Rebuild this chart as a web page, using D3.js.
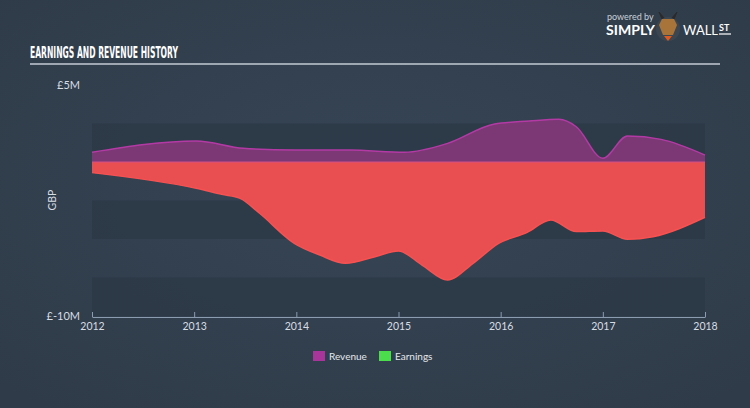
<!DOCTYPE html>
<html><head><meta charset="utf-8">
<script src="https://cdn.jsdelivr.net/npm/d3@7"></script>
<style>html,body{margin:0;padding:0;background:#333f4e;}svg{display:block;}</style>
</head><body>
<svg id="c" width="750" height="408"></svg>
<script>
const revenueYears = [2012.0, 2013.02, 2013.48, 2013.98, 2014.52, 2015.06, 2015.48, 2015.94, 2016.28, 2016.57, 2016.74, 2017.0, 2017.24, 2017.57, 2018.0];
const revenueValues = [0.63, 1.36, 0.89, 0.78, 0.78, 0.63, 1.21, 2.47, 2.66, 2.77, 2.29, 0.24, 1.69, 1.47, 0.45];
const earningsYears = [2012.0, 2013.02, 2013.27, 2013.45, 2013.64, 2013.98, 2014.23, 2014.48, 2014.77, 2015.0, 2015.23, 2015.48, 2015.73, 2015.98, 2016.26, 2016.49, 2016.74, 2017.0, 2017.24, 2017.49, 2018.0];
const earningsValues = [-0.69, -1.71, -2.1, -2.36, -3.33, -5.28, -6.04, -6.58, -6.15, -5.78, -6.69, -7.66, -6.58, -5.28, -4.57, -3.77, -4.52, -4.48, -5.02, -4.85, -3.59];
const xTicks = [2012, 2013, 2014, 2015, 2016, 2017, 2018];
const yLabels = [{v: 5, t: "£5M"}, {v: -10, t: "£-10M"}];
const bandEdges = [2.5, 0, -2.5, -5, -7.5, -10];

const svg = d3.select("#c");
const defs = svg.append("defs");
const rg = defs.append("radialGradient").attr("id","bg").attr("cx","50%").attr("cy","45%").attr("r","70%");
rg.append("stop").attr("offset","0%").attr("stop-color","#364556");
rg.append("stop").attr("offset","100%").attr("stop-color","#2f3b48");
svg.append("rect").attr("width",750).attr("height",408).attr("fill","url(#bg)");

const x = d3.scaleLinear().domain([2012, 2018]).range([92, 705]);
const y = d3.scaleLinear().domain([-10, 5]).range([316, 85]);

// bands
for (let i = 0; i < bandEdges.length - 1; i += 2) {
  svg.append("rect").attr("x", x(2012)).attr("width", x(2018) - x(2012))
    .attr("y", y(bandEdges[i])).attr("height", y(bandEdges[i+1]) - y(bandEdges[i]))
    .attr("fill", "#2c3846").attr("opacity", 0.8);
}

const rev = revenueYears.map((d,i)=>({x:d,v:revenueValues[i]}));
const earn = earningsYears.map((d,i)=>({x:d,v:earningsValues[i]}));
const curve = d3.curveMonotoneX;
const area = d3.area().x(d=>x(d.x)).y0(y(0)).y1(d=>y(d.v)).curve(curve);
const line = d3.line().x(d=>x(d.x)).y(d=>y(d.v)).curve(curve);

svg.append("path").datum(rev).attr("d", area).attr("fill", "#7b3874");
svg.append("path").datum(rev).attr("d", line).attr("fill","none").attr("stroke","#b33aa5").attr("stroke-width",1.5);
svg.append("path").datum(earn).attr("d", area).attr("fill", "#e94e50");
svg.append("path").datum(earn).attr("d", line).attr("fill","none").attr("stroke","#f65252").attr("stroke-width",1.5);
svg.append("line").attr("x1",x(2012)).attr("x2",x(2018)).attr("y1",y(0)).attr("y2",y(0)).attr("stroke","#d2508a").attr("stroke-width",1);

// x axis
const xa = svg.append("g").attr("transform",`translate(0,${y(-10)+1})`)
  .call(d3.axisBottom(x).tickValues(xTicks).tickFormat(d3.format("d")).tickSize(5).tickSizeOuter(0));
xa.select(".domain").attr("stroke","#8b9bb0");
xa.selectAll(".tick line").attr("stroke","#8b9bb0").attr("transform","translate(0,-5)").attr("y2",5);
xa.selectAll(".tick text").attr("fill","#d8dde3").attr("font-family","Lato, sans-serif").attr("font-size",10.5).attr("dy","0.5em");

// y labels
svg.selectAll(".yl").data(yLabels).enter().append("text")
  .attr("x", 80).attr("y", d=>y(d.v)+4).attr("text-anchor","end")
  .attr("fill","#d8dde3").attr("font-family","Lato, sans-serif").attr("font-size",11).text(d=>d.t);
svg.append("text").attr("transform","translate(56,200) rotate(-90)").attr("text-anchor","middle")
  .attr("fill","#d8dde3").attr("font-family","Lato, sans-serif").attr("font-size",10.5).text("GBP");

// title
svg.append("text").attr("x",30).attr("y",58).attr("fill","#ffffff")
  .attr("font-family","'DejaVu Sans Condensed', 'Liberation Sans Narrow', sans-serif").attr("font-weight","bold")
  .attr("font-size",15).attr("textLength",148).attr("lengthAdjust","spacingAndGlyphs").text("EARNINGS AND REVENUE HISTORY");
svg.append("line").attr("x1",30).attr("x2",720).attr("y1",64).attr("y2",64).attr("stroke","#c3cbd4").attr("stroke-width",1.5);

// legend
const legend = [{t:"Revenue",c:"#a8359a",x:313},{t:"Earnings",c:"#4cdd4c",x:379}];
legend.forEach(l=>{
  svg.append("rect").attr("x",l.x).attr("y",351).attr("width",12).attr("height",10).attr("fill",l.c);
  svg.append("text").attr("x",l.x+16).attr("y",360).attr("fill","#e4e8ec").attr("font-family","Lato, sans-serif").attr("font-size",10).text(l.t);
});

// logo
svg.append("text").attr("x",607).attr("y",20).attr("fill","#c9d0d8").attr("font-family","Lato, sans-serif").attr("font-size",9).text("powered by");
svg.append("text").attr("x",606).attr("y",35).attr("fill","#ffffff").attr("font-family","Lato, sans-serif").attr("font-weight","bold").attr("font-size",13).attr("textLength",49).attr("lengthAdjust","spacingAndGlyphs").text("SIMPLY");
svg.append("text").attr("x",683).attr("y",35).attr("fill","#ffffff").attr("font-family","Lato, sans-serif").attr("font-size",13).attr("textLength",35).attr("lengthAdjust","spacingAndGlyphs").text("WALL");
svg.append("text").attr("x",719).attr("y",31).attr("fill","#ffffff").attr("font-family","Lato, sans-serif").attr("font-weight","bold").attr("font-size",9).text("ST");
svg.append("line").attr("x1",719).attr("x2",731).attr("y1",34).attr("y2",34).attr("stroke","#fff").attr("stroke-width",1.2);
const bull = svg.append("g").attr("transform","translate(668,27)");
bull.append("circle").attr("r",12).attr("cy",2).attr("fill","#3c4650");
bull.append("path").attr("d","M-9,-2 L-5,8 L5,8 L9,-2 L6,-8 L-6,-8 Z").attr("fill","#a8743a");
bull.append("path").attr("d","M-6,-8 L-9,-15 L-4,-9 M6,-8 L9,-15 L4,-9").attr("fill","#2a2a2a").attr("stroke","#2a2a2a");
bull.append("path").attr("d","M-4,9 L0,14 L4,9").attr("fill","#e05a20");
</script>
</body></html>
